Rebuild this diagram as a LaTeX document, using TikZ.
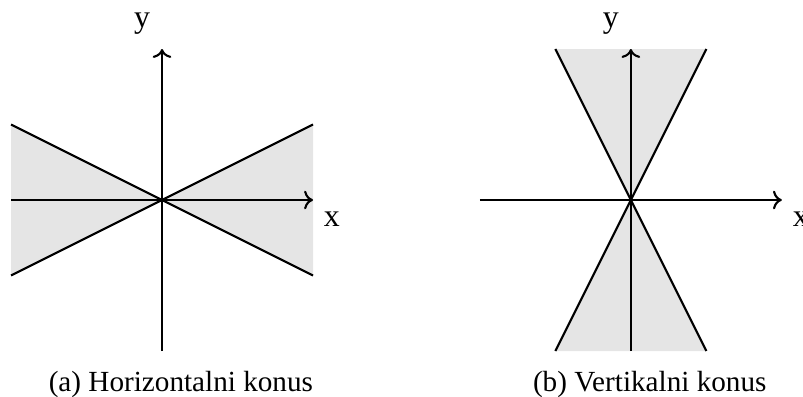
\documentclass[tikz,border=0pt]{standalone}
\usepackage{fontspec}
\setmainfont{Liberation Serif}
\usetikzlibrary{arrows.meta}

\begin{document}
\begin{tikzpicture}[
        font=\fontsize{12}{14}\selectfont,
        axis/.style={->, thick},
        cone/.style={thick},
        area/.style={fill=black!10, draw=none},
        lbl/.style={inner sep=0pt},
        subcap/.style={anchor=base, font=\fontsize{11}{13}\selectfont}
      ]
        \useasboundingbox (-2.146,-2.596) rectangle (8.49,2.649);

        % (a) horizontal cone
        \coordinate (oa) at (0,0);
        \coordinate (al) at (-2,0);
        \coordinate (ar) at (2,0);
        \coordinate (ab) at (0,-2);
        \coordinate (au) at (0,2);
        \coordinate (alu) at (-2,1);
        \coordinate (ald) at (-2,-1);
        \coordinate (aru) at (2,1);
        \coordinate (ard) at (2,-1);

        \fill[area] (oa) -- (alu) -- (ald) -- cycle;
        \fill[area] (oa) -- (aru) -- (ard) -- cycle;
        \draw[cone] (alu) -- (ard);
        \draw[cone] (ald) -- (aru);
        \draw[axis] (al) -- (ar);
        \draw[axis] (ab) -- (au);

        \node[lbl] (ya) at (-0.265,2.33) {y};
        \node[lbl] (xa) at (2.25,-0.25) {x};
        \node[subcap] (capa) at (0.25,-2.53) {(a) Horizontalni konus};

        % (b) vertical cone
        \begin{scope}[xshift=6.21cm]
          \coordinate (ob) at (0,0);
          \coordinate (bl) at (-2,0);
          \coordinate (br) at (2,0);
          \coordinate (bb) at (0,-2);
          \coordinate (bu) at (0,2);
          \coordinate (blu) at (-1,2);
          \coordinate (bru) at (1,2);
          \coordinate (bld) at (-1,-2);
          \coordinate (brd) at (1,-2);

          \fill[area] (ob) -- (blu) -- (bru) -- cycle;
          \fill[area] (ob) -- (bld) -- (brd) -- cycle;
          \draw[cone] (blu) -- (brd);
          \draw[cone] (bru) -- (bld);
          \draw[axis] (bl) -- (br);
          \draw[axis] (bb) -- (bu);

          \node[lbl] (yb) at (-0.265,2.33) {y};
          \node[lbl] (xb) at (2.25,-0.25) {x};
          \node[subcap] (capb) at (0.25,-2.53) {(b) Vertikalni konus};
        \end{scope}
      \end{tikzpicture}
\end{document}
